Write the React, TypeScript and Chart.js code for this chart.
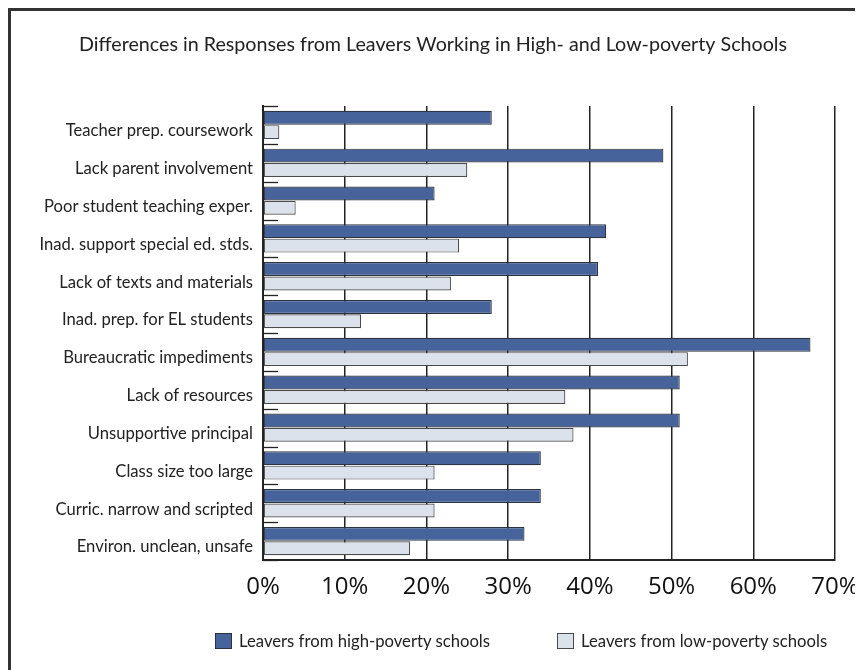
import React, { useEffect, useRef } from "react";
import { Chart, registerables } from "chart.js";

Chart.register(...registerables);

const titleText =
  "Differences in Responses from Leavers Working in High- and Low-poverty Schools";

const categories = [
  "Teacher prep. coursework",
  "Lack parent involvement",
  "Poor student teaching exper.",
  "Inad. support special ed. stds.",
  "Lack of texts and materials",
  "Inad. prep. for EL students",
  "Bureaucratic impediments",
  "Lack of resources",
  "Unsupportive principal",
  "Class size too large",
  "Curric. narrow and scripted",
  "Environ. unclean, unsafe",
];

const seriesLabels = [
  "Leavers from high-poverty schools",
  "Leavers from low-poverty schools",
];

const highPoverty = [28, 49, 21, 42, 41, 28, 67, 51, 51, 34, 34, 32];
const lowPoverty = [2, 25, 4, 24, 23, 12, 52, 37, 38, 21, 21, 18];

const xTickValues = [0, 10, 20, 30, 40, 50, 60, 70];

const FONT = "Lato, 'Open Sans', sans-serif";
const TICK_FONT = "'Open Sans', 'Noto Sans', sans-serif";
const HIGH_FILL = "#46649b";
const HIGH_BORDER = "#2e3340";
const LOW_FILL = "#dce2eb";
const LOW_BORDER = "#4a4a4a";

const boundaryTicks = {
  id: "boundaryTicks",
  afterDatasetsDraw(chart: any) {
    const y = chart.scales.y;
    const x = chart.scales.x;
    const ctx = chart.ctx;
    const left = x.getPixelForValue(xTickValues[0]);
    ctx.save();
    ctx.strokeStyle = "#222";
    ctx.lineWidth = 1.3;
    for (let i = 0; i <= categories.length; i++) {
      const py = Math.round(y.getPixelForValue(i - 0.5)) + 0.5;
      ctx.beginPath();
      ctx.moveTo(left, py);
      ctx.lineTo(left + 15, py);
      ctx.stroke();
    }
    ctx.restore();
  },
};

export default function App() {
  const canvasRef = useRef<HTMLCanvasElement | null>(null);

  useEffect(() => {
    document.documentElement.style.overflow = "hidden";
    const canvas = canvasRef.current;
    if (!canvas) return;
    const chart = new Chart(canvas, {
      type: "bar",
      data: {
        labels: categories,
        datasets: [
          {
            label: seriesLabels[0],
            data: highPoverty,
            backgroundColor: HIGH_FILL,
            borderColor: HIGH_BORDER,
            borderWidth: 1.2,
            borderSkipped: false,
            barPercentage: 0.97,
            categoryPercentage: 0.76,
          },
          {
            label: seriesLabels[1],
            data: lowPoverty,
            backgroundColor: LOW_FILL,
            borderColor: LOW_BORDER,
            borderWidth: 1.2,
            borderSkipped: false,
            barPercentage: 0.97,
            categoryPercentage: 0.76,
          },
        ],
      },
      options: {
        indexAxis: "y",
        responsive: false,
        animation: false,
        maintainAspectRatio: false,
        layout: { padding: { left: 0, right: 8, top: 0, bottom: 60 } },
        plugins: {
          legend: { display: false },
          tooltip: { enabled: false },
          title: {
            display: true,
            text: titleText,
            color: "#222",
            font: { family: FONT, size: 19.7, weight: "normal" },
            padding: { top: 22, bottom: 49.4 },
          },
        },
        scales: {
          x: {
            type: "linear",
            min: xTickValues[0],
            max: xTickValues[xTickValues.length - 1],
            z: 1,
            afterBuildTicks(scale: any) {
              scale.ticks = xTickValues.map((v) => ({ value: v }));
            },
            afterFit(scale: any) {
              scale.height = 50;
              scale.paddingRight = 28;
              scale.paddingLeft = 0;
            },
            ticks: {
              callback: (v: any) => v + "%",
              color: "#111",
              font: { family: TICK_FONT, size: 24 },
              padding: 13,
              maxRotation: 0,
            },
            grid: {
              color: "#222",
              lineWidth: 1.5,
              drawTicks: false,
            },
            border: { display: true, color: "#222", width: 2 },
          },
          y: {
            type: "category",
            offset: true,
            afterFit(scale: any) {
              scale.width = 252;
              scale.paddingTop = 0;
              scale.paddingBottom = 0;
            },
            ticks: {
              color: "#222",
              font: { family: FONT, size: 16.6 },
              padding: 10,
              labelOffset: 6,
            },
            grid: { display: false, drawTicks: false },
            border: { display: true, color: "#222", width: 2 },
          },
        },
      },
      plugins: [boundaryTicks],
    });
    return () => chart.destroy();
  }, []);

  const legendItems = [
    { label: seriesLabels[0], fill: HIGH_FILL, border: HIGH_BORDER, left: 204 },
    { label: seriesLabels[1], fill: LOW_FILL, border: LOW_BORDER, left: 546 },
  ];

  return (
    <div
      style={{
        position: "relative",
        width: 852,
        height: 659,
        borderLeft: "3px solid #333",
        borderTop: "3px solid #333",
        background: "#fff",
      }}
    >
      <canvas
        ref={canvasRef}
        width={852}
        height={659}
        style={{ position: "absolute", left: 0, top: 0, width: 852, height: 659 }}
      />
      {legendItems.map((it) => (
        <div
          key={it.label}
          style={{
            position: "absolute",
            left: it.left,
            top: 620,
            display: "flex",
            alignItems: "center",
            fontFamily: FONT,
            fontSize: 16.7,
            color: "#222",
            whiteSpace: "nowrap",
            lineHeight: "20px",
          }}
        >
          <span
            style={{
              display: "inline-block",
              width: 15,
              height: 14,
              background: it.fill,
              border: `1px solid ${it.border}`,
              marginRight: 7,
            }}
          />
          {it.label}
        </div>
      ))}
    </div>
  );
}
